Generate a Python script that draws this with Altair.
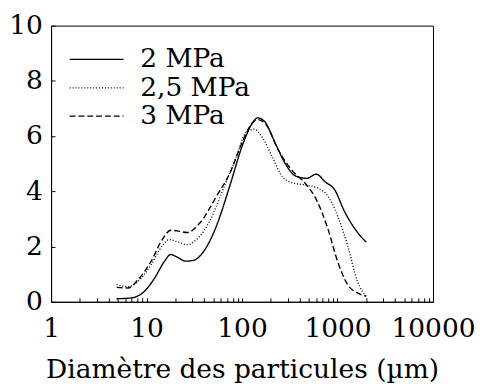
import altair as alt
import pandas as pd

series_names = ["2 MPa", "2,5 MPa", "3 MPa"]

x_2mpa = [4.86, 6.9, 9.5, 12.1, 15.3, 17.9, 20.9, 25.6, 31, 41, 54, 74, 102, 129, 145, 171, 225, 284, 362, 476, 600, 738, 935, 1180, 1620, 2000]
y_2mpa = [0.11, 0.14, 0.38, 0.85, 1.45, 1.71, 1.62, 1.47, 1.50, 1.90, 2.75, 4.17, 5.71, 6.48, 6.66, 6.54, 5.71, 5.00, 4.56, 4.47, 4.62, 4.35, 4.05, 3.28, 2.51, 2.16]

x_25mpa = [4.86, 6.4, 8.1, 11.1, 14.7, 17.2, 20.9, 26.6, 33.7, 46, 63, 87, 110, 134, 163, 208, 264, 334, 458, 628, 795, 1005, 1275, 1620, 2000]
y_25mpa = [0.62, 0.55, 0.73, 1.33, 2.04, 2.25, 2.18, 2.07, 2.27, 2.93, 4.05, 5.24, 6.13, 6.25, 5.95, 5.24, 4.53, 4.31, 4.23, 4.11, 3.82, 3.10, 2.04, 0.73, 0.20]

x_3mpa = [4.86, 6.4, 8.1, 11.1, 14.7, 17.9, 20.9, 26.6, 36.5, 54, 74, 102, 124, 145, 178, 242, 334, 458, 600, 795, 1005, 1275, 1620, 2000]
y_3mpa = [0.52, 0.50, 0.79, 1.45, 2.27, 2.59, 2.57, 2.51, 2.87, 3.82, 4.64, 5.83, 6.42, 6.60, 6.42, 5.47, 4.76, 4.29, 3.70, 2.63, 1.45, 0.62, 0.32, 0.20]

x_ticks = [1, 2, 3, 4, 5, 6, 7, 8, 9,
           10, 20, 30, 40, 50, 60, 70, 80, 90,
           100, 200, 300, 400, 500, 600, 700, 800, 900,
           1000, 2000, 3000, 4000, 5000, 6000, 7000, 8000, 9000, 10000]
y_ticks = [0, 2, 4, 6, 8, 10]

rows = []
for name, xs, ys in [(series_names[0], x_2mpa, y_2mpa),
                     (series_names[1], x_25mpa, y_25mpa),
                     (series_names[2], x_3mpa, y_3mpa)]:
    for i, (xv, yv) in enumerate(zip(xs, ys)):
        rows.append({"serie": name, "d": xv, "v": yv, "o": i})
df = pd.DataFrame(rows)

FONT = "DejaVu Serif"
FS = 27
is_pow = "abs(round(log(datum.value)/LN10) - log(datum.value)/LN10) < 1e-6"

chart = alt.Chart(df).mark_line(color="black", strokeWidth=1.4, interpolate="monotone").encode(
    x=alt.X("d:Q",
            scale=alt.Scale(type="log", domain=[1, 10000], nice=False),
            axis=alt.Axis(values=x_ticks, title="Diamètre des particules (µm)",
                          labelExpr=f"({is_pow}) ? format(datum.value, 'd') : ''",
                          tickSize={"expr": "-4"}, labelPadding=18, titlePadding=16,
                          grid=False, labelFlush=False, labelOverlap=False)),
    y=alt.Y("v:Q",
            scale=alt.Scale(domain=[0, 10], nice=False),
            axis=alt.Axis(values=y_ticks, title=None, tickSize={"expr": "-4"},
                          labelPadding=13, grid=False, labelFlush=False)),
    order="o:Q",
    strokeDash=alt.StrokeDash("serie:N",
                              scale=alt.Scale(domain=series_names,
                                              range=[[1, 0], [1, 2], [6, 3]]),
                              legend=alt.Legend(title=None, orient="none",
                                                legendX=33, legendY=21,
                                                symbolType="M-5,0H5", symbolSize=121,
                                                symbolStrokeColor="black",
                                                symbolFillColor="transparent",
                                                symbolStrokeWidth=1.2,
                                                labelOffset=31, labelFontSize=FS,
                                                labelFont=FONT, labelColor="black",
                                                rowPadding=1, padding=0)),
).properties(
    width=390, height=282,
    padding={"top": 0, "left": 0, "right": 5, "bottom": 0}
).configure_view(
    stroke="black", strokeWidth=1
).configure_axis(
    labelFont=FONT, titleFont=FONT, labelFontSize=FS, titleFontSize=FS,
    labelColor="black", titleColor="black", titleFontWeight="normal",
    domainColor="black", tickColor="black"
)

chart.save("out.html", embed_options={"renderer": "svg", "actions": False})
